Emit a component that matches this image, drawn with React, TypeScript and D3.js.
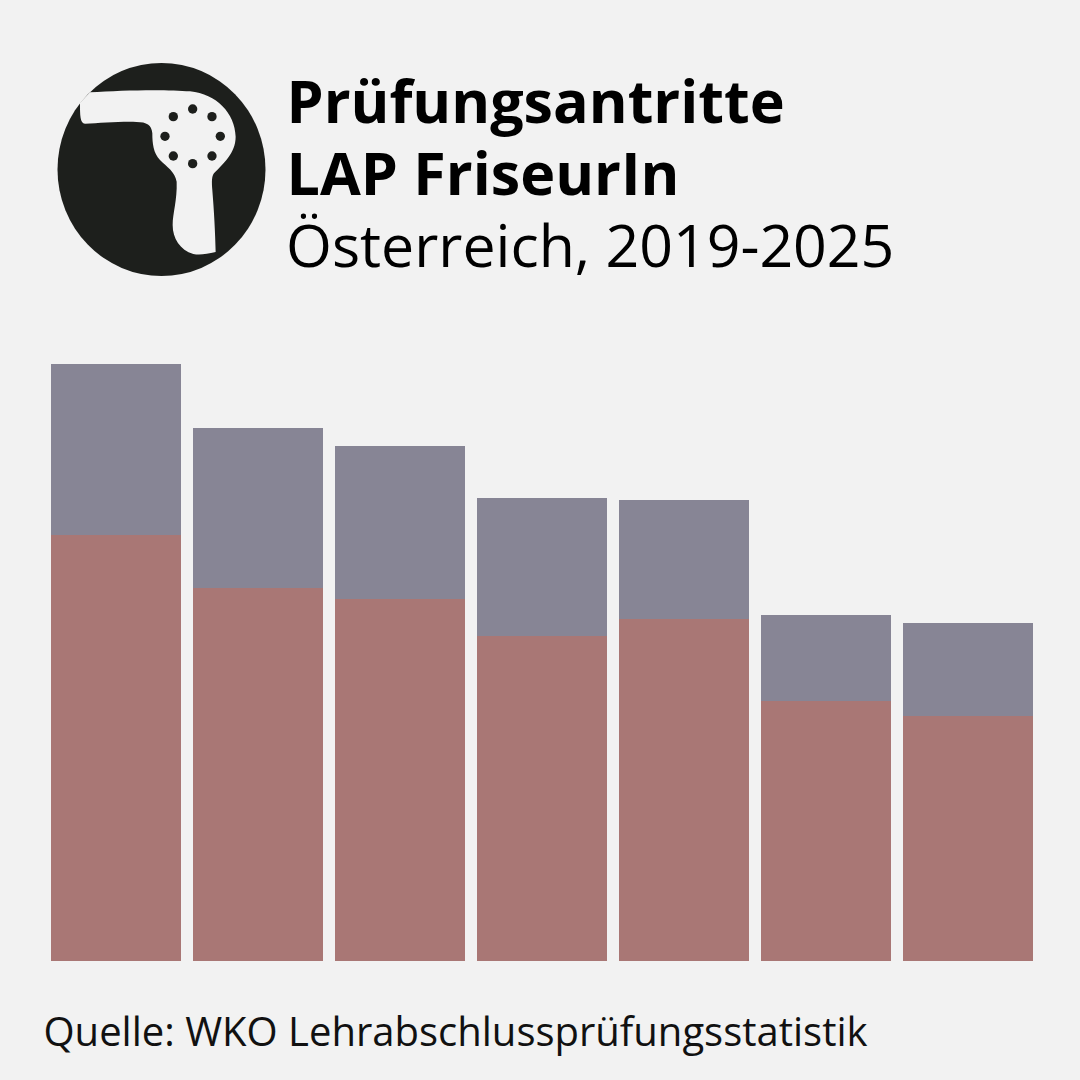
import React from "react";
import * as d3 from "d3";

const years = ["2019", "2020", "2021", "2022", "2023", "2024", "2025"];
const totalValues = [597, 533, 515, 463, 461, 346, 338];
const lowerValues = [426, 373, 362, 325, 342, 260, 245];
const titleLines = ["Prüfungsantritte", "LAP FriseurIn"];
const subtitle = "Österreich, 2019-2025";
const source = "Quelle: WKO Lehrabschlussprüfungsstatistik";
const iconDots: [number, number][] = [[458,177],[516,200],[541,259],[516,318],[458,341],[400,318],[375,259],[400,200]];

const FONT = "'Open Sans', sans-serif";
const BG = "#f2f2f2";

export default function App() {
  const x = d3.scaleBand<string>().domain(years).range([45, 1039]).paddingInner(12 / 142).paddingOuter(6 / 142);
  const y = d3.scaleLinear().domain([0, 597]).range([961, 364]);
  return (
    <svg width={1080} height={1080} viewBox="0 0 1080 1080"
      style={{ position: "fixed", left: 0, top: 0, display: "block", background: BG }}>
      <rect width={1080} height={1080} fill={BG} />
      <ellipse cx={161.5} cy={169.5} rx={104} ry={106.5} fill="#1d1f1c" />
      <g transform="translate(40,50) scale(0.3333)">
        <path fill={BG} d="M150,127 C250,120 380,118 450,124 C530,132 585,190 587,260 C587,310 550,340 522,370 C515,380 515,395 517,420 C522,480 526,550 527,606 C500,612 480,616 460,612 C420,600 398,565 398,525 C398,490 412,450 410,395 C405,365 380,350 360,330 C340,310 337,280 337,250 C335,225 320,216 290,216 C240,214 180,220 135,221 C120,220 120,195 120,158 Z" />
        {iconDots.map(([cx, cy], i) => <circle key={i} cx={cx} cy={cy} r={14} fill="#1d1f1c" />)}
      </g>
      <g fontFamily={FONT} fill="#000" fontSize={59.2}>
        {titleLines.map((t, i) => (
          <text key={t} x={286.5} y={122.5 + i * 72.5} fontWeight={700}>{t}</text>
        ))}
        <text x={286} y={267} fontSize={59}>{subtitle}</text>
      </g>
      {years.map((yr, i) => (
        <g key={yr}>
          <rect x={x(yr)} y={y(totalValues[i])} width={x.bandwidth()} height={y(lowerValues[i]) - y(totalValues[i])} fill="#878595" />
          <rect x={x(yr)} y={y(lowerValues[i])} width={x.bandwidth()} height={y(0) - y(lowerValues[i])} fill="#a97775" />
        </g>
      ))}
      <text x={43.5} y={1046} fontFamily={FONT} fontSize={40} fill="#111">{source}</text>
    </svg>
  );
}
